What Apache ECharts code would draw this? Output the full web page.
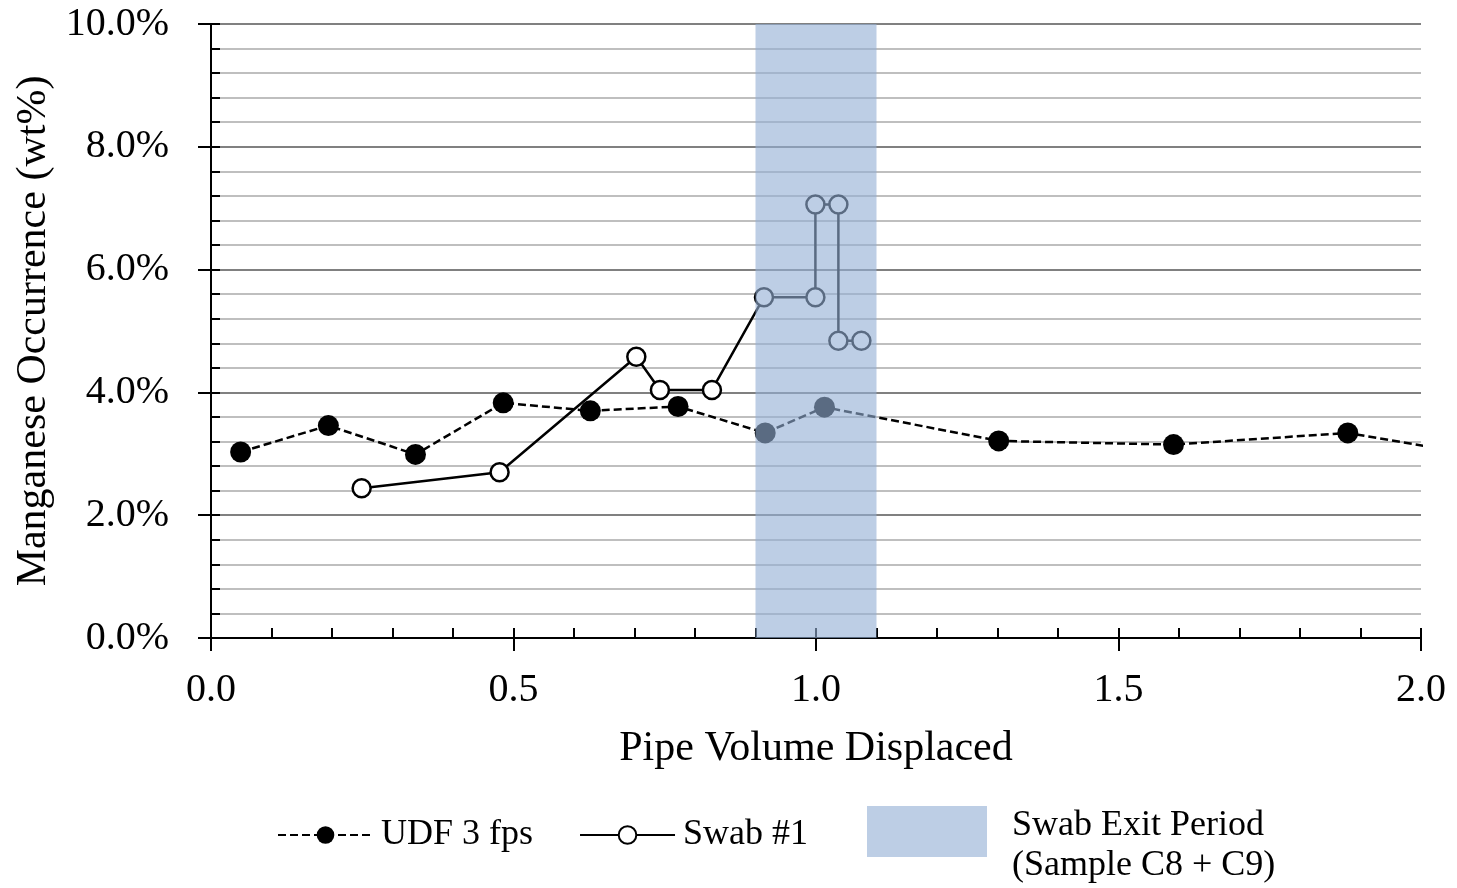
<!DOCTYPE html>
<html>
<head>
<meta charset="utf-8">
<script src="https://cdn.jsdelivr.net/npm/echarts@6/dist/echarts.min.js"></script>
<style>html,body{margin:0;padding:0;background:#fff}#c{width:1457px;height:888px}</style>
</head>
<body>
<div id="c"></div>
<script>
// Data
const udfX = [0.049, 0.194, 0.338, 0.483, 0.627, 0.772, 0.916, 1.014, 1.302, 1.591, 1.879, 2.17];
const udfY = [3.03, 3.46, 2.99, 3.83, 3.70, 3.77, 3.34, 3.76, 3.21, 3.15, 3.34, 2.85];
const swabX = [0.249, 0.477, 0.703, 0.742, 0.828, 0.914, 0.999, 0.999, 1.037, 1.037, 1.075];
const swabY = [2.44, 2.70, 4.58, 4.04, 4.04, 5.55, 5.55, 7.06, 7.06, 4.84, 4.84];
const bandRange = [0.9, 1.1];
const seriesNames = ['UDF 3 fps', 'Swab #1', 'Swab Exit Period\n(Sample C8 + C9)'];
const xTitle = 'Pipe Volume Displaced';
const yTitle = 'Manganese Occurrence (wt%)';

const FONT = 'Liberation Serif';
const zip = (a, b) => a.map((v, i) => [v, b[i]]);

const chart = echarts.init(document.getElementById('c'));
const xBase = {type: 'value', min: 0, max: 2, interval: 0.5, gridIndex: 0};
const yBase = {type: 'value', min: 0, max: 10, interval: 2, gridIndex: 0};
chart.setOption({
  animation: false,
  backgroundColor: '#fff',
  grid: {left: 211, right: 36, top: 24, bottom: 250, containLabel: false},
  xAxis: [
    Object.assign({}, xBase, {
      position: 'bottom',
      name: xTitle, nameLocation: 'middle', nameGap: 90,
      nameTextStyle: {fontFamily: FONT, fontSize: 42, color: '#000'},
      axisLine: {show: true, lineStyle: {color: '#000', width: 2}},
      axisTick: {show: true, inside: false, length: 13, lineStyle: {color: '#000', width: 2}},
      axisLabel: {show: true, margin: 32, fontFamily: FONT, fontSize: 40, color: '#000',
        formatter: v => v.toFixed(1)},
      splitLine: {show: false},
      minorTick: {show: false}
    }),
    Object.assign({}, xBase, {
      position: 'bottom',
      axisLine: {show: false},
      axisTick: {show: true, inside: true, length: 10, lineStyle: {color: '#000', width: 2}},
      minorTick: {show: true, splitNumber: 5, length: 10, lineStyle: {color: '#000', width: 2}},
      axisLabel: {show: false},
      splitLine: {show: false}
    })
  ],
  yAxis: [
    Object.assign({}, yBase, {
      position: 'left',
      name: yTitle, nameLocation: 'middle', nameGap: 155,
      nameTextStyle: {fontFamily: FONT, fontSize: 42, color: '#000'},
      axisLine: {show: true, lineStyle: {color: '#000', width: 2}},
      axisTick: {show: true, inside: false, length: 13, lineStyle: {color: '#000', width: 2}},
      axisLabel: {show: true, margin: 42, fontFamily: FONT, fontSize: 40, color: '#000',
        padding: [6, 0, 0, 0],
        formatter: v => v.toFixed(1) + '%'},
      splitLine: {show: false},
      minorTick: {show: false}
    }),
    Object.assign({}, yBase, {
      position: 'left',
      axisLine: {show: false},
      axisTick: {show: true, inside: true, length: 9, lineStyle: {color: '#000', width: 2}},
      minorTick: {show: true, splitNumber: 5, length: 9, lineStyle: {color: '#000', width: 2}},
      axisLabel: {show: false},
      splitLine: {show: true, lineStyle: {color: '#808080', width: 2}},
      minorSplitLine: {show: true, lineStyle: {color: '#bfbfbf', width: 2}}
    })
  ],
  legend: [
    {
      data: [seriesNames[0], seriesNames[1]],
      left: 277, top: 817, orient: 'horizontal', padding: 0,
      itemWidth: 95, itemHeight: 22, itemGap: 46,
      selectedMode: false,
      textStyle: {fontFamily: FONT, fontSize: 36, color: '#000', padding: [0, 0, 0, 3]}
    },
    {
      data: [{name: seriesNames[2], icon: 'path://M0,0L120,0L120,51L0,51Z M0,80L0.1,80'}],
      left: 867, top: 806, orient: 'horizontal', padding: 0,
      itemWidth: 120, itemHeight: 80,
      selectedMode: false,
      textStyle: {fontFamily: FONT, fontSize: 36, lineHeight: 40, color: '#000', padding: [0, 0, 0, 20]}
    }
  ],
  series: [
    {
      name: seriesNames[0], type: 'line', xAxisIndex: 0, yAxisIndex: 0, z: 2,
      data: zip(udfX, udfY),
      symbol: 'circle', symbolSize: 21,
      itemStyle: {color: '#000', borderColor: '#000', borderWidth: 0},
      lineStyle: {color: '#000', width: 2.5, type: [8, 4]},
      clip: true
    },
    {
      name: seriesNames[1], type: 'line', xAxisIndex: 0, yAxisIndex: 0, z: 3,
      data: zip(swabX, swabY),
      symbol: 'circle', symbolSize: 18,
      itemStyle: {color: '#fff', borderColor: '#000', borderWidth: 2.5},
      lineStyle: {color: '#000', width: 2.5, type: 'solid'},
      clip: true
    },
    {
      name: seriesNames[2], type: 'bar', xAxisIndex: 0, yAxisIndex: 0, z: 10,
      data: [],
      itemStyle: {color: 'rgba(147,175,213,0.61)'},
      markArea: {
        silent: true, z: 20,
        itemStyle: {color: 'rgba(147,175,213,0.61)', borderWidth: 0},
        data: [[{xAxis: bandRange[0]}, {xAxis: bandRange[1]}]]
      }
    }
  ]
});
</script>
</body>
</html>
